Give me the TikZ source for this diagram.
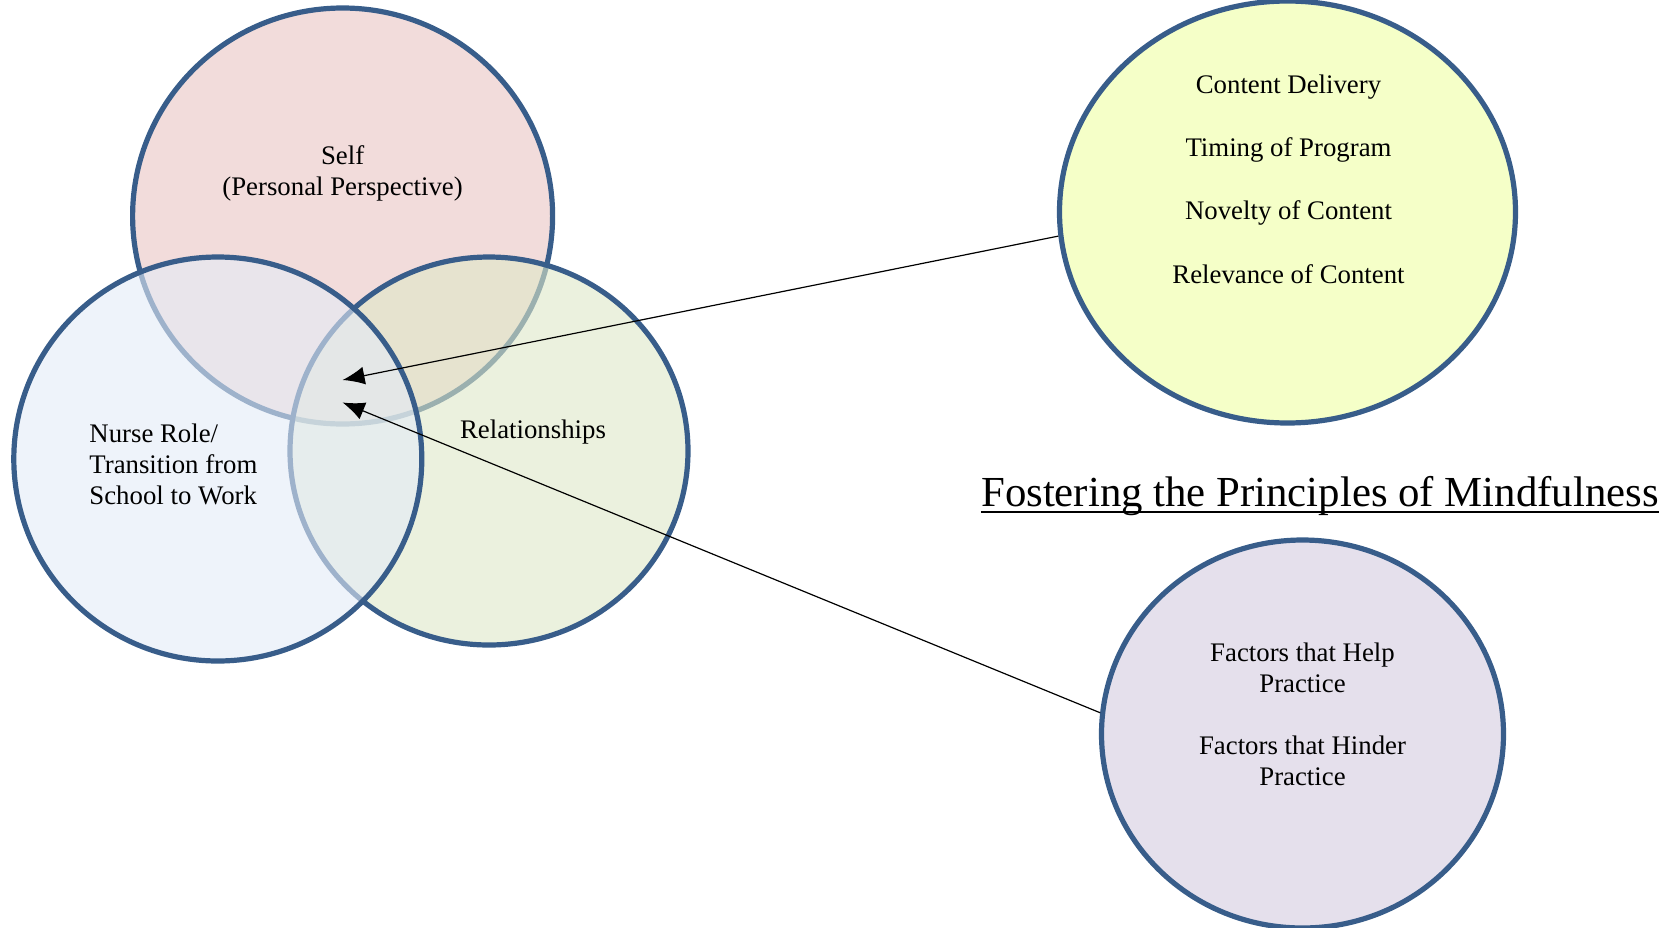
\documentclass[tikz,border=0pt]{standalone}
\usepackage{fontspec}
\setmainfont{Liberation Serif}
\usetikzlibrary{shapes.geometric,arrows.meta}
\definecolor{bord}{RGB}{56,93,138}
\definecolor{selfc}{RGB}{242,220,219}
\definecolor{nursec}{RGB}{227,235,247}
\definecolor{relc}{RGB}{222,232,200}
\definecolor{contc}{RGB}{245,255,200}
\definecolor{factc}{RGB}{229,224,236}
\begin{document}
\begin{tikzpicture}[x=0.5pt,y=-0.5pt,
 venn/.style={ellipse, draw=bord, line width=2.6pt, inner sep=0pt},
 lbl/.style={font=\fontsize{13.4}{15.5}\selectfont, inner sep=0pt, align=center},
 arr/.style={-{Latex[length=11pt,width=9pt]}, line width=0.6pt}]
\useasboundingbox (0,0) rectangle (1670,927);
% circles
\node[venn, fill=selfc, minimum width=210pt, minimum height=208pt] (self) at (342.6,216) {};
\node[venn, fill=relc, fill opacity=0.6, minimum width=199pt, minimum height=194pt] (rel) at (489,451) {};
\node[venn, fill=nursec, fill opacity=0.6, minimum width=204pt, minimum height=202pt] (nurse) at (217.8,459) {};
\node[venn, fill=contc, minimum width=228pt, minimum height=211pt] (content) at (1287.5,212) {};
\node[venn, fill=factc, minimum width=201pt, minimum height=194pt] (factors) at (1302.5,734) {};
% labels
\node[lbl] (tself) at (342.6,173) {Self\\(Personal Perspective)};
\node[lbl, align=left, anchor=west] (tnurse) at (89,464) {Nurse Role/\\Transition from\\School to Work};
\node[lbl] (trel) at (533,432.5) {Relationships};
\node[lbl] (c1) at (1288.5,86.7) {Content Delivery};
\node[lbl] (c2) at (1288.5,149.8) {Timing of Program};
\node[lbl] (c3) at (1288.5,213) {Novelty of Content};
\node[lbl] (c4) at (1288.5,274) {Relevance of Content};
\node[lbl] (f1) at (1302.5,667.5) {Factors that Help\\Practice};
\node[lbl] (f2) at (1302.5,760.5) {Factors that Hinder\\Practice};
\node[inner sep=0pt, anchor=base, font=\fontsize{21.4}{24}\selectfont] (title) at (1320,506) {Fostering the Principles of Mindfulness};
\draw[line width=1pt] ([yshift=-3pt]title.base west) -- ([yshift=-3pt]title.base east);
% arrows
\coordinate (tip1) at (342.6,380);
\coordinate (tip2) at (342.6,402.5);
\draw[arr] (content.186) -- (tip1);
\draw[arr] (factors.174) -- (tip2);
\end{tikzpicture}
\end{document}
